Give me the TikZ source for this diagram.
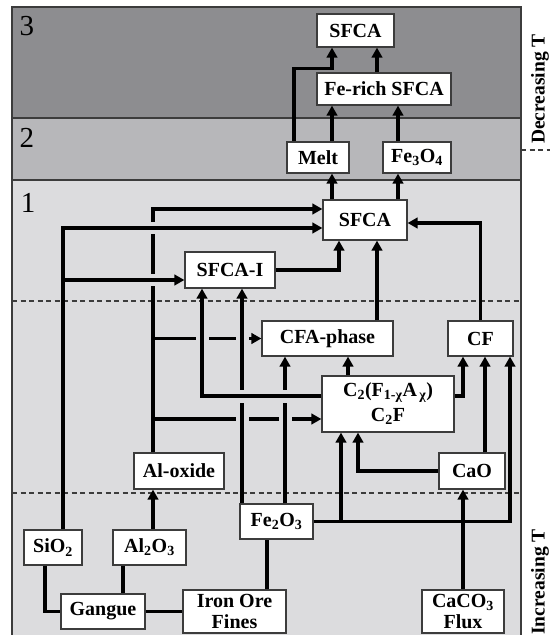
\documentclass[tikz,border=0pt]{standalone}
\usepackage{fontspec}
\setmainfont{Liberation Serif}
\usetikzlibrary{arrows.meta}
\definecolor{bandthree}{HTML}{8D8D90}
\definecolor{bandtwo}{HTML}{B7B7BA}
\definecolor{bandone}{HTML}{DCDCDE}
\definecolor{cframe}{HTML}{3C3C3C}

\begin{document}
\begin{tikzpicture}[x=1pt, y=-1pt,
  phase/.style={draw=cframe, fill=white, line width=1.2pt, inner sep=0pt, align=center,
    font=\fontsize{20}{21}\selectfont\bfseries, minimum height=35pt},
  flow/.style={line width=3.5pt, -{Triangle[length=10pt, width=10.5pt]}},
  link/.style={line width=3.5pt},
  zone/.style={font=\fontsize{29}{30}\selectfont},
  side/.style={font=\fontsize{19.5}{21}\selectfont\bfseries, rotate=90}]
  \useasboundingbox (0,0) rectangle (550,635);

  % Temperature bands
  \fill[bandthree] (12,7) rectangle (521,118);
  \fill[bandtwo] (12,118) rectangle (521,180);
  \fill[bandone] (12,180) rectangle (521,635);
  \draw[cframe, line width=1.2pt] (12,118) -- (521,118) (12,180) -- (521,180);
  \draw[cframe, line width=1.2pt] (12,635) -- (12,7) -- (521,7) -- (521,635);
  \draw[cframe, line width=1.1pt, dash pattern=on 5pt off 3.5pt]
    (12,301) -- (521,301) (12,493) -- (521,493) (521,150) -- (550,150);

  % Labels
  \node[zone] (zthree) at (27,26.5) {3};
  \node[zone] (ztwo) at (27,137.5) {2};
  \node[zone] (zone) at (28,202.5) {1};
  \node[side] (dect) at (540,89) {Decreasing T};
  \node[side] (inct) at (540,582) {Increasing T};

  % Phases
  \node[phase, minimum width=77pt, minimum height=33pt] (sfcatop) at (355.5,30.5) {SFCA};
  \node[phase, minimum width=134pt, minimum height=32pt] (ferich) at (384,89) {Fe-rich SFCA};
  \node[phase, minimum width=62pt, minimum height=31pt] (melt) at (318,157.5) {Melt};
  \node[phase, minimum width=68pt, minimum height=31pt] (fethree) at (417,157.5) {Fe\textsubscript{3}O\textsubscript{4}};
  \node[phase, minimum width=84pt, minimum height=40pt] (sfca) at (365,220) {SFCA};
  \node[phase, minimum width=90pt, minimum height=36pt] (sfcai) at (230,270) {SFCA-I};
  \node[phase, minimum width=131pt] (cfa) at (327.5,338.5) {CFA-phase};
  \node[phase, minimum width=65pt] (cf) at (480.5,338.5) {CF};
  \node[phase, minimum width=132pt, minimum height=56pt] (ctwof) at (388,404)
    {C\textsubscript{2}(F\textsubscript{1-χ}A\textsubscript{\,χ})\\[4pt]C\textsubscript{2}F};
  \node[phase, minimum width=90pt, minimum height=36pt] (alox) at (179,471) {Al-oxide};
  \node[phase, minimum width=66pt, minimum height=36pt] (cao) at (472,471) {CaO};
  \node[phase, minimum width=73pt] (fetwo) at (276.5,521.5) {Fe\textsubscript{2}O\textsubscript{3}};
  \node[phase, minimum width=58pt] (sio) at (53,547.5) {SiO\textsubscript{2}};
  \node[phase, minimum width=73pt] (altwo) at (149.5,547.5) {Al\textsubscript{2}O\textsubscript{3}};
  \node[phase, minimum width=84pt] (gangue) at (103,611.5) {Gangue};
  \node[phase, minimum width=103pt, minimum height=43pt] (iron) at (234.5,611.5) {Iron Ore\\Fines};
  \node[phase, minimum width=82pt, minimum height=43pt] (caco) at (463,611.5) {CaCO\textsubscript{3}\\Flux};

  % Lines passing under others
  \draw[flow] ([xshift=-26pt]alox.north) |- ([yshift=11pt]sfca.west);
  \draw[flow] ([xshift=-26pt]alox.north |- cfa.west) -- (cfa.west);
  \draw[flow] ([xshift=-26pt,yshift=-15pt]ctwof.west -| alox.north) -- ([yshift=-15pt]ctwof.west);
  \foreach \px/\py in {153/228, 153/280}
    \fill[bandone] (\px-2.8,\py-6) rectangle (\px+2.8,\py+6);
  \foreach \px/\py in {202/338.5, 242/338.5, 242/419, 285/419}
    \fill[bandone] (\px-6.5,\py-2.8) rectangle (\px+6.5,\py+2.8);
  \draw[flow] ([xshift=-34.5pt]fetwo.north) -- ([xshift=-34.5pt]fetwo.north |- sfcai.south);
  \draw[flow] ([xshift=8.5pt]fetwo.north) -- ([xshift=8.5pt]fetwo.north |- cfa.south);
  \foreach \px/\py in {242/396, 285/396}
    \fill[bandone] (\px-2.8,\py-6.5) rectangle (\px+2.8,\py+6.5);

  % Band 1
  \draw[flow] ([xshift=10pt]sio.north) |- ([yshift=-8pt]sfca.west);
  \draw[flow] ([xshift=10pt,yshift=-10pt]sfcai.west -| sio.north) -- ([yshift=-10pt]sfcai.west);
  \draw[flow] ([yshift=8pt]ctwof.west) -| ([xshift=-28pt]sfcai.south);
  \draw[flow] (sfcai.east) -| ([xshift=-26pt]sfca.south);
  \draw[flow] ([xshift=12pt]sfca.south |- cfa.north) -- ([xshift=12pt]sfca.south);
  \draw[flow] (cf.north) |- ([yshift=-3pt]sfca.east);
  \draw[flow] ([xshift=-40pt]ctwof.north) -- ([xshift=-40pt]ctwof.north |- cfa.south);
  \draw[flow] ([yshift=8pt]ctwof.east) -| ([xshift=-17.5pt]cf.south);
  \draw[flow] ([xshift=13pt]cao.north) -- ([xshift=13pt]cao.north |- cf.south);
  \draw[flow] (fetwo.east) -| ([xshift=29.5pt]cf.south);
  \draw[flow] ([xshift=-47pt]ctwof.south |- fetwo.east) -- ([xshift=-47pt]ctwof.south);
  \draw[flow] (cao.west) -| ([xshift=-30pt]ctwof.south);
  \draw[flow] ([xshift=3.5pt]altwo.north) -- ([xshift=3.5pt]altwo.north |- alox.south);
  \draw[flow] (caco.north) -- (caco.north |- cao.south);
  \draw[link] ([xshift=-8pt]sio.south) |- (gangue.west);
  \draw[link] ([xshift=-26.5pt]altwo.south) -- ([xshift=-26.5pt]altwo.south |- gangue.north);
  \draw[link] (gangue.east) -- (iron.west);
  \draw[link] ([xshift=32.5pt]iron.north) -- ([xshift=32.5pt]iron.north |- fetwo.south);

  % Bands 2 and 3
  \draw[flow] ([xshift=14pt]melt.south |- sfca.north) -- ([xshift=14pt]melt.south);
  \draw[flow] ([xshift=-19pt]fethree.south |- sfca.north) -- ([xshift=-19pt]fethree.south);
  \draw[flow] ([xshift=14pt]melt.north) -- ([xshift=14pt]melt.north |- ferich.south);
  \draw[flow] ([xshift=-19pt]fethree.north) -- ([xshift=-19pt]fethree.north |- ferich.south);
  \draw[flow] ([xshift=-7pt]ferich.north) -- ([xshift=-7pt]ferich.north |- sfcatop.south);
  \draw[flow] ([xshift=-24pt]melt.north) -- ++(0,-73) -| ([xshift=-23.5pt]sfcatop.south);
\end{tikzpicture}
\end{document}
